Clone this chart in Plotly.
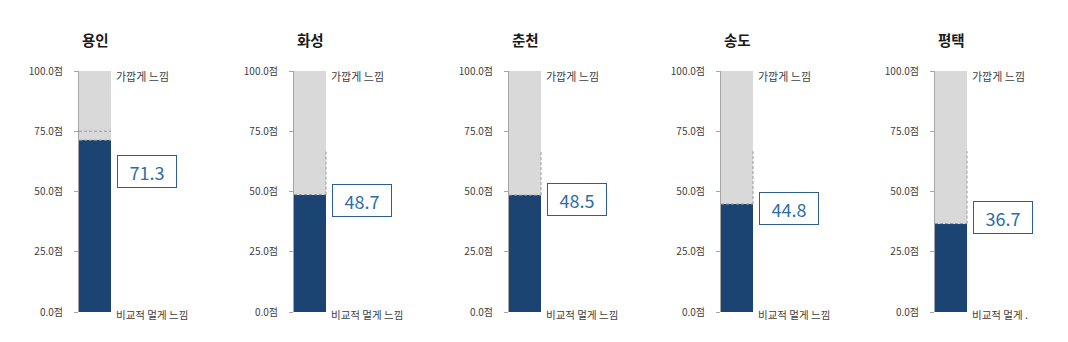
import plotly.graph_objects as go

# ---- data ----
regions = ["용인", "화성", "춘천", "송도", "평택"]
scores = [71.3, 48.7, 48.5, 44.8, 36.7]
guide_levels = [75.0, 66.7, 66.7, 66.7, 66.7]
tick_vals = [0, 25, 50, 75, 100]
tick_text = ["0.0점", "25.0점", "50.0점", "75.0점", "100.0점"]
top_label = "가깝게 느낌"
bottom_labels = ["비교적 멀게 느낌", "비교적 멀게 느낌", "비교적 멀게 느낌", "비교적 멀게 느낌", "비교적 멀게 ."]

# ---- layout constants (pixels) ----
W, H = 1068, 342
axis_px = [79, 294, 509, 721, 935]
bar_px = 32
x_range = [-0.5, 3.0]
box_y = [58.5, 46.1, 46.5, 42.9, 39.2]

DARK = "#1B4472"
LIGHT = "#D9D9D9"
FONT = "Noto Sans CJK KR"

fig = go.Figure()
layout = dict(
    width=W, height=H,
    margin=dict(l=0, r=0, t=71, b=30),
    paper_bgcolor="white", plot_bgcolor="white",
    showlegend=False, barmode="stack", bargap=0,
    font=dict(family=FONT, color="#404040"),
)
annotations = []

for i, (name, val, g) in enumerate(zip(regions, scores, guide_levels)):
    n = "" if i == 0 else str(i + 1)
    xa, ya = "x" + n, "y" + n
    dom_w = (x_range[1] - x_range[0]) * bar_px
    d0 = axis_px[i] / W
    d1 = (axis_px[i] + dom_w) / W
    layout["xaxis" + n] = dict(domain=[d0, d1], range=x_range, visible=False,
                               fixedrange=True)
    layout["yaxis" + n] = dict(
        anchor=xa, range=[0, 100], tickvals=tick_vals, ticktext=tick_text,
        showline=True, linecolor="#A6A6A6", linewidth=1,
        ticks="outside", ticklen=4, tickcolor="#A6A6A6",
        showgrid=False, zeroline=False, ticklabelstandoff=9,
        tickfont=dict(family=FONT, size=10, color="#404040"),
    )
    fig.add_trace(go.Bar(x=[0], y=[val], width=[1], marker=dict(color=DARK, line=dict(width=0)),
                         xaxis=xa, yaxis=ya, hoverinfo="skip"))
    fig.add_trace(go.Bar(x=[0], y=[100 - val], width=[1], marker=dict(color=LIGHT, line=dict(width=0)),
                         xaxis=xa, yaxis=ya, hoverinfo="skip"))
    dash = dict(color="#9A9A9A", width=1, dash="3px,2px")
    # dashed line on top of the score
    fig.add_trace(go.Scatter(x=[-0.5, 0.5], y=[val, val], mode="lines", line=dash,
                             xaxis=xa, yaxis=ya, hoverinfo="skip"))
    if g > val:
        if i == 0:
            fig.add_trace(go.Scatter(x=[-0.5, 0.5], y=[g, g], mode="lines", line=dash,
                                     xaxis=xa, yaxis=ya, hoverinfo="skip"))
        else:
            fig.add_trace(go.Scatter(x=[0.5, 0.5], y=[val, g], mode="lines", line=dash,
                                     xaxis=xa, yaxis=ya, hoverinfo="skip"))
    # title
    annotations.append(dict(x=0, y=1.129, xref=xa, yref="paper", text="<b>" + name + "</b>",
                            showarrow=False, xanchor="center", yanchor="middle",
                            font=dict(family=FONT, size=14.5, color="#1A1A1A")))
    # side labels
    annotations.append(dict(x=0.5, y=97.9, xref=xa, yref=ya, text=top_label, xshift=3,
                            showarrow=False, xanchor="left", yanchor="middle",
                            font=dict(family=FONT, size=11, color="#404040")))
    annotations.append(dict(x=0.5, y=-0.012, xref=xa, yref="paper", text=bottom_labels[i], xshift=3,
                            showarrow=False, xanchor="left", yanchor="middle",
                            font=dict(family=FONT, size=10.5, color="#404040")))
    # value box
    annotations.append(dict(x=0.5, y=box_y[i], xref=xa, yref=ya, text=f"{val:.1f}", xshift=6,
                            showarrow=False, xanchor="left", yanchor="middle",
                            width=56, height=29, borderpad=1, borderwidth=1,
                            bordercolor="#2E5F8A", bgcolor="white",
                            font=dict(family=FONT, size=18, color="#2E6DA4")))

layout["annotations"] = annotations
fig.update_layout(**layout)
fig.write_html("out.html")
